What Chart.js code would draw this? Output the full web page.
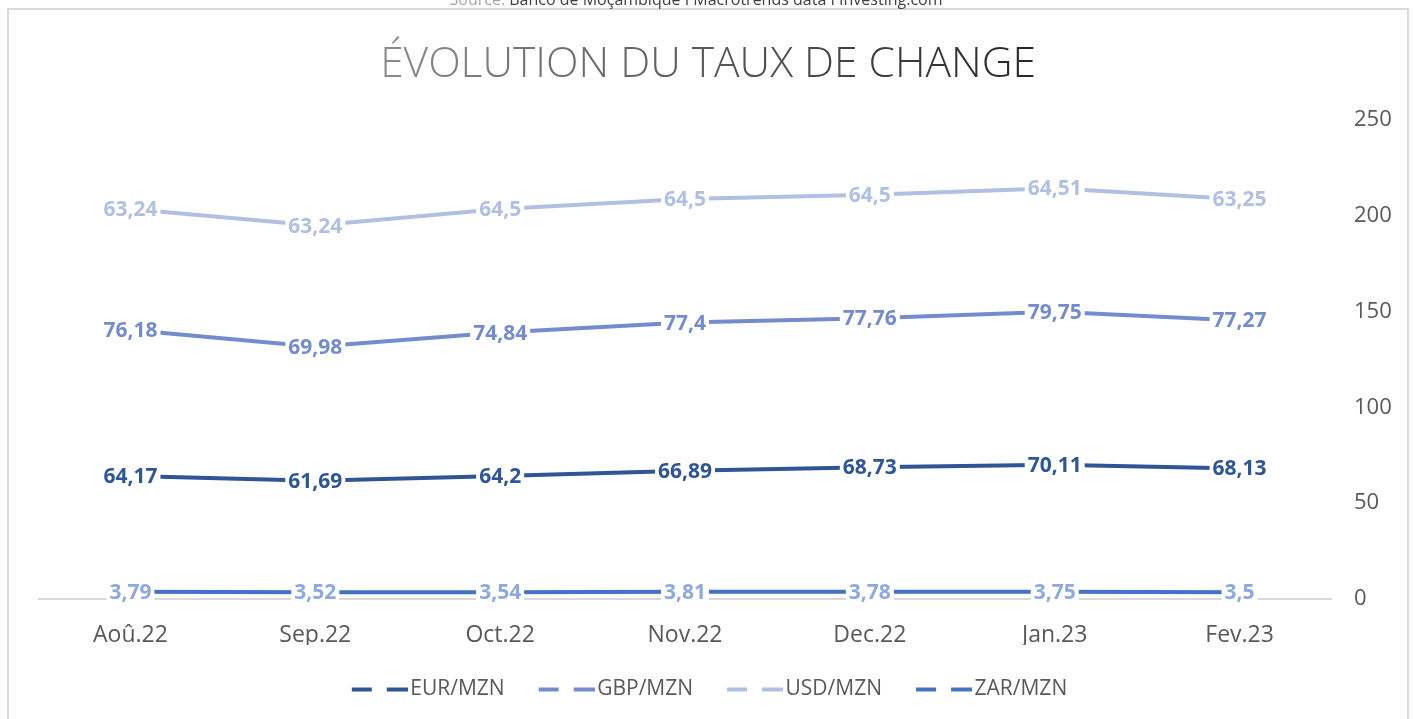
<!DOCTYPE html>
<html lang="fr">
<head>
<meta charset="utf-8">
<title>Évolution du taux de change</title>
<script src="https://cdn.jsdelivr.net/npm/chart.js@4.4.1/dist/chart.umd.min.js"></script>
<style>
  html, body { margin: 0; padding: 0; background: #ffffff; overflow: hidden; }
  #wrap { position: relative; width: 1413px; height: 719px; }
</style>
</head>
<body>
<div id="wrap"><canvas id="fxChart" width="1413" height="719"></canvas></div>
<script>
// ------------------------------
// DATA
// ------------------------------

const months = ["Aoû.22", "Sep.22", "Oct.22", "Nov.22", "Dec.22", "Jan.23", "Fev.23"];

const eurMzn = [64.17, 61.69, 64.2, 66.89, 68.73, 70.11, 68.13];
const gbpMzn = [76.18, 69.98, 74.84, 77.4, 77.76, 79.75, 77.27];
const usdMzn = [63.24, 63.24, 64.5, 64.5, 64.5, 64.51, 63.25];
const zarMzn = [3.79, 3.52, 3.54, 3.81, 3.78, 3.75, 3.5];

const yMin = 0;
const yMax = 250;
const yStep = 50;

const chartTitle = "ÉVOLUTION DU TAUX DE CHANGE";
const sourcePrefix = "Source: ";
const sourceText = "Banco de Moçambique I Macrotrends data I Investing.com";

// ------------------------------
// HELPERS
// ------------------------------

const FONT = "'Open Sans', 'Noto Sans', sans-serif";

function formatValue(v) {
  return String(v).replace(".", ",");
}

// dashed legend sample: two short dashes
function dashIcon(color) {
  const c = document.createElement("canvas");
  c.width = 64;
  c.height = 6;
  const g = c.getContext("2d");
  g.fillStyle = color;
  g.fillRect(8, 1, 20, 4);
  g.fillRect(43, 1, 21, 4);
  return c;
}

function makeSeries(label, data, color, labelColor, stack) {
  return {
    label,
    data,
    stack,
    borderColor: color,
    backgroundColor: color,
    borderWidth: 4,
    pointRadius: 0,
    pointHoverRadius: 0,
    tension: 0,
    fill: false,
    borderCapStyle: "round",
    labelColor,
    legendIcon: dashIcon(color)
  };
}

// ------------------------------
// PLUGINS
// ------------------------------

const framePlugin = {
  id: "frame",
  afterLayout(chart) {
    // legend is centred a bit left of the full width in the original
    if (chart.legend) {
      chart.legend.left -= 16;
      chart.legend.right -= 16;
    }
  },
  beforeDraw(chart) {
    const ctx = chart.ctx;
    ctx.save();
    ctx.fillStyle = "#ffffff";
    ctx.fillRect(0, 0, chart.width, chart.height);

    ctx.strokeStyle = "#d9d9d9";
    ctx.lineWidth = 2;
    ctx.strokeRect(8, 9, 1400, 800);

    // source line, clipped at the top of the picture
    ctx.font = `16px ${FONT}`;
    ctx.textBaseline = "alphabetic";
    const w1 = ctx.measureText(sourcePrefix).width;
    const w2 = ctx.measureText(sourceText).width;
    const x = 696 - (w1 + w2) / 2;
    ctx.fillStyle = "#a6a6a6";
    ctx.fillText(sourcePrefix, x, 5);
    ctx.fillStyle = "#404040";
    ctx.fillText(sourceText, x + w1, 5);

    // title with grey gradient
    ctx.font = `300 42.5px ${FONT}`;
    const tw = ctx.measureText(chartTitle).width;
    const tx = 708 - tw / 2;
    const grad = ctx.createLinearGradient(tx, 0, tx + tw, 0);
    grad.addColorStop(0, "#8c8c8c");
    grad.addColorStop(1, "#262626");
    ctx.fillStyle = grad;
    ctx.textAlign = "left";
    ctx.fillText(chartTitle, tx, 77);
    ctx.restore();
  }
};

const valueLabelPlugin = {
  id: "valueLabels",
  afterDatasetsDraw(chart) {
    const ctx = chart.ctx;
    ctx.save();
    ctx.font = `bold 21px ${FONT}`;
    ctx.textAlign = "center";
    ctx.textBaseline = "middle";
    chart.data.datasets.forEach((ds, di) => {
      const meta = chart.getDatasetMeta(di);
      meta.data.forEach((pt, i) => {
        const txt = formatValue(ds.data[i]);
        const w = ctx.measureText(txt).width;
        ctx.fillStyle = "#ffffff";
        ctx.fillRect(pt.x - w / 2 - 3, pt.y - 11, w + 6, 23);
        ctx.fillStyle = ds.labelColor;
        ctx.fillText(txt, pt.x, pt.y + 1);
      });
    });
    ctx.restore();
  }
};

// ------------------------------
// CHART
// ------------------------------

function renderChart() {
  const canvas = document.getElementById("fxChart");
  const ctx = canvas.getContext("2d");

  const datasets = [
    makeSeries("EUR/MZN", eurMzn, "#2f5597", "#2f5597", "fx"),
    makeSeries("GBP/MZN", gbpMzn, "#748ccd", "#748ccd", "fx"),
    makeSeries("USD/MZN", usdMzn, "#b1bfe2", "#b1bfe2", "fx"),
    makeSeries("ZAR/MZN", zarMzn, "#4472c4", "#8ea9db", "zar")
  ];

  return new Chart(ctx, {
    type: "line",
    data: { labels: months, datasets },
    plugins: [framePlugin, valueLabelPlugin],
    options: {
      responsive: false,
      animation: false,
      events: [],
      layout: {
        padding: { top: 120, left: 38, right: 0, bottom: 9 }
      },
      plugins: {
        title: { display: false },
        tooltip: { enabled: false },
        legend: {
          position: "bottom",
          labels: {
            usePointStyle: true,
            pointStyleWidth: 48,
            padding: 34,
            color: "#595959",
            font: { family: FONT, size: 21 },
            generateLabels(chart) {
              return chart.data.datasets.map((ds, i) => ({
                text: ds.label,
                fillStyle: ds.borderColor,
                strokeStyle: ds.borderColor,
                lineWidth: 0,
                pointStyle: ds.legendIcon,
                fontColor: "#595959",
                hidden: false,
                datasetIndex: i
              }));
            }
          }
        }
      },
      scales: {
        x: {
          offset: true,
          grid: { display: false, drawTicks: false },
          border: { display: false },
          ticks: {
            color: "#595959",
            padding: 23,
            font: { family: FONT, size: 23 }
          },
          afterFit(scale) {
            scale.height = 46;
          }
        },
        y: {
          position: "right",
          stacked: true,
          min: yMin,
          max: yMax,
          border: { display: false },
          grid: {
            drawTicks: false,
            lineWidth: 2,
            color(c) {
              return c.tick && c.tick.value === 0 ? "#d9d9d9" : "rgba(0,0,0,0)";
            }
          },
          ticks: {
            stepSize: yStep,
            padding: 22,
            color: "#595959",
            font: { family: FONT, size: 22 }
          },
          afterFit(scale) {
            scale.width = 81;
          }
        }
      }
    }
  });
}

renderChart();
</script>
</body>
</html>
